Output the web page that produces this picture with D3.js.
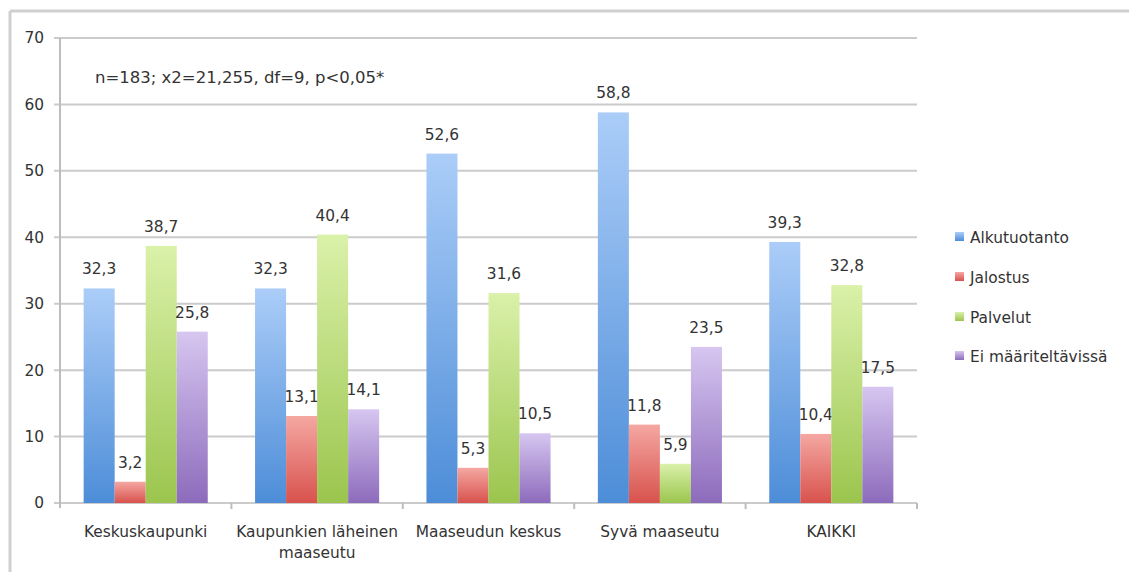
<!DOCTYPE html>
<html><head><meta charset="utf-8">
<script src="https://cdn.jsdelivr.net/npm/d3@7"></script>
<style>
html,body{margin:0;padding:0;background:#fff;}
svg text{font-family:"DejaVu Sans",sans-serif;fill:#333;}
</style></head>
<body><svg id="c" width="1129" height="572"></svg>
<script>
const categories = ["Keskuskaupunki", "Kaupunkien läheinen maaseutu", "Maaseudun keskus", "Syvä maaseutu", "KAIKKI"];
const categoryLines = [["Keskuskaupunki"], ["Kaupunkien läheinen", "maaseutu"], ["Maaseudun keskus"], ["Syvä maaseutu"], ["KAIKKI"]];
const seriesNames = ["Alkutuotanto", "Jalostus", "Palvelut", "Ei määriteltävissä"];
const alkutuotanto = [32.3, 32.3, 52.6, 58.8, 39.3];
const jalostus = [3.2, 13.1, 5.3, 11.8, 10.4];
const palvelut = [38.7, 40.4, 31.6, 5.9, 32.8];
const eiMaariteltavissa = [25.8, 14.1, 10.5, 23.5, 17.5];
const yTicks = [0, 10, 20, 30, 40, 50, 60, 70];
const annotation = "n=183; x2=21,255, df=9, p<0,05*";

const seriesValues = [alkutuotanto, jalostus, palvelut, eiMaariteltavissa];
const gradTop = ["#abcdf8", "#f5a7a2", "#daf1a9", "#d6c6f0"];
const gradBot = ["#4d8dd8", "#d8524d", "#9bc54e", "#8d6bbc"];

const svg = d3.select("#c");
const L = 60, R = 917, T = 38, B = 503;
const fs = 15.4;

// outer frame
svg.append("line").attr("x1", 10).attr("x2", 1129).attr("y1", 11).attr("y2", 11).attr("stroke", "#cfcfcf").attr("stroke-width", 3);
svg.append("line").attr("x1", 10).attr("x2", 10).attr("y1", 11).attr("y2", 572).attr("stroke", "#cfcfcf").attr("stroke-width", 3);

const y = d3.scaleLinear().domain([0, 70]).range([B, T]);
const x0 = d3.scaleBand().domain(categories).range([L, R]).padding(0);
const bw = x0.bandwidth();
const gap = bw * 0.138;
const x1 = d3.scaleBand().domain(seriesNames).range([gap, bw - gap]).padding(0);

const defs = svg.append("defs");
seriesNames.forEach((s, i) => {
  const g = defs.append("linearGradient").attr("id", "g" + i).attr("x1", 0).attr("y1", 0).attr("x2", 0).attr("y2", 1);
  g.append("stop").attr("offset", "0%").attr("stop-color", gradTop[i]);
  g.append("stop").attr("offset", "100%").attr("stop-color", gradBot[i]);
});

// gridlines
svg.append("g").selectAll("line").data(yTicks).join("line")
  .attr("x1", L - 6).attr("x2", R).attr("y1", d => y(d)).attr("y2", d => y(d))
  .attr("stroke", "#cbcbcb").attr("stroke-width", 2);

// y axis line
svg.append("line").attr("x1", L).attr("x2", L).attr("y1", T).attr("y2", B + 5).attr("stroke", "#bdbdbd").attr("stroke-width", 2);
// x ticks at category boundaries
const bounds = categories.map(c => x0(c)).concat([R]);
svg.append("g").selectAll("line").data(bounds.slice(1)).join("line")
  .attr("x1", d => d).attr("x2", d => d).attr("y1", B).attr("y2", B + 6)
  .attr("stroke", "#bdbdbd").attr("stroke-width", 2);

// y labels
svg.append("g").selectAll("text").data(yTicks).join("text")
  .attr("x", 44).attr("y", d => y(d)).attr("dy", "0.35em").attr("text-anchor", "end")
  .attr("font-size", fs).text(d => d);

// bars
seriesNames.forEach((s, i) => {
  const vals = seriesValues[i];
  svg.append("g").selectAll("rect").data(vals).join("rect")
    .attr("x", (d, j) => x0(categories[j]) + x1(s))
    .attr("width", x1.bandwidth())
    .attr("y", d => y(d))
    .attr("height", d => B - y(d))
    .attr("fill", `url(#g${i})`);
  svg.append("g").selectAll("text").data(vals).join("text")
    .attr("x", (d, j) => x0(categories[j]) + x1(s) + x1.bandwidth() / 2)
    .attr("y", d => y(d) - 14)
    .attr("text-anchor", "middle").attr("font-size", fs)
    .text(d => String(d).replace(".", ","));
});

// x labels
categories.forEach((c, j) => {
  const t = svg.append("text").attr("x", x0(c) + bw / 2).attr("y", 537).attr("text-anchor", "middle").attr("font-size", fs);
  categoryLines[j].forEach((ln, k) => {
    t.append("tspan").attr("x", x0(c) + bw / 2).attr("dy", k === 0 ? 0 : 21).text(ln);
  });
});

// annotation
svg.append("text").attr("x", 95).attr("y", 83).attr("font-size", 16.5).text(annotation);

// legend
const ly = [238, 278, 318, 357];
seriesNames.forEach((s, i) => {
  svg.append("rect").attr("x", 955).attr("y", ly[i] - 6).attr("width", 9).attr("height", 9).attr("fill", `url(#g${i})`);
  svg.append("text").attr("x", 970).attr("y", ly[i]).attr("dy", "0.35em").attr("font-size", fs).text(s);
});
</script></body></html>
